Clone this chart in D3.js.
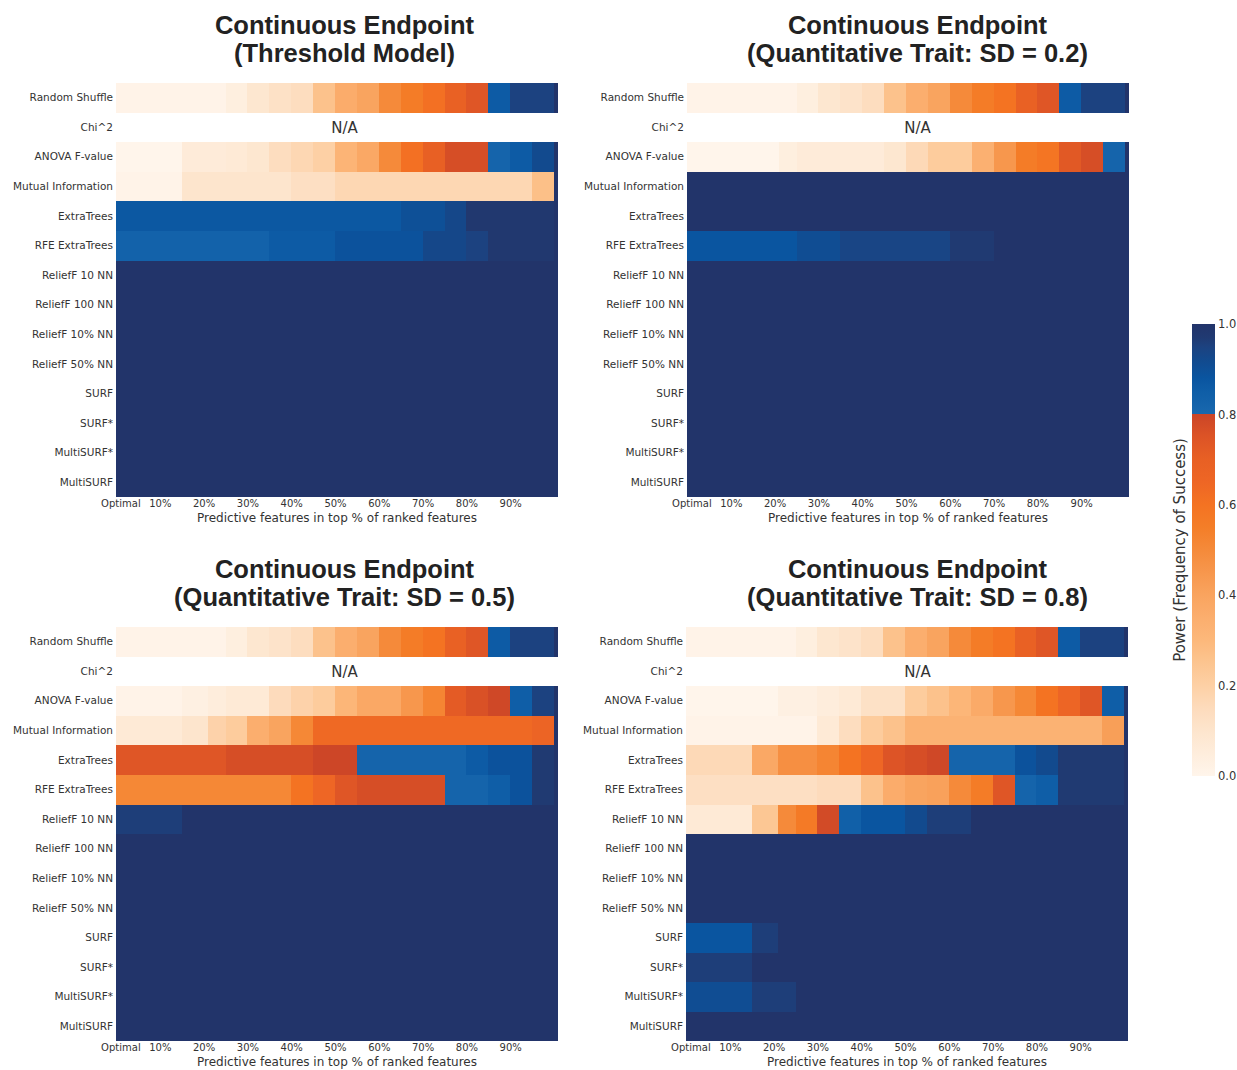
<!DOCTYPE html>
<html>
<head>
<meta charset="utf-8">
<script src="https://cdn.jsdelivr.net/npm/d3@7"></script>
<style>
  html, body { margin: 0; padding: 0; background: #fff; }
  svg { display: block; }
</style>
</head>
<body>
<svg id="chart" width="1237" height="1070"></svg>
<script>
// ---------------- DATA ----------------
const methods = ["Random Shuffle", "Chi^2", "ANOVA F-value", "Mutual Information", "ExtraTrees",
  "RFE ExtraTrees", "ReliefF 10 NN", "ReliefF 100 NN", "ReliefF 10% NN", "ReliefF 50% NN",
  "SURF", "SURF*", "MultiSURF*", "MultiSURF"];

// bin edges (% of ranked features); last thin bin is the trailing column
const binEdges = [0, 15, 21, 25, 30, 35, 40, 45, 50, 55, 60, 65, 70, 75, 80, 85, 90, 95, 100, 101];

const tickValues = [1, 10, 20, 30, 40, 50, 60, 70, 80, 90];
const tickLabels = ["Optimal", "10%", "20%", "30%", "40%", "50%", "60%", "70%", "80%", "90%"];

const panelTitles = [
  ["Continuous Endpoint", "(Threshold Model)"],
  ["Continuous Endpoint", "(Quantitative Trait: SD = 0.2)"],
  ["Continuous Endpoint", "(Quantitative Trait: SD = 0.5)"],
  ["Continuous Endpoint", "(Quantitative Trait: SD = 0.8)"]
];

const colorbarTicks = [0.0, 0.2, 0.4, 0.6, 0.8, 1.0];

// Power values, one row per method (null = N/A)
const powerThreshold = [
  [0.01,0.01,0.01,0.04,0.09,0.12,0.14,0.26,0.36,0.40,0.50,0.56,0.61,0.69,0.74,0.86,0.95,0.95,1],
  null,
  [0.00,0.06,0.06,0.07,0.09,0.14,0.17,0.20,0.32,0.38,0.50,0.61,0.70,0.77,0.77,0.82,0.86,0.92,1],
  [0.01,0.10,0.10,0.10,0.10,0.10,0.13,0.13,0.17,0.17,0.17,0.17,0.17,0.17,0.17,0.17,0.17,0.27,1],
  [0.87,0.87,0.87,0.87,0.87,0.87,0.87,0.87,0.87,0.87,0.87,0.90,0.90,0.93,0.98,0.98,0.98,0.98,1],
  [0.83,0.83,0.83,0.83,0.83,0.86,0.86,0.86,0.89,0.89,0.89,0.89,0.93,0.93,0.95,0.98,0.98,0.98,1],
  [1,1,1,1,1,1,1,1,1,1,1,1,1,1,1,1,1,1,1],
  [1,1,1,1,1,1,1,1,1,1,1,1,1,1,1,1,1,1,1],
  [1,1,1,1,1,1,1,1,1,1,1,1,1,1,1,1,1,1,1],
  [1,1,1,1,1,1,1,1,1,1,1,1,1,1,1,1,1,1,1],
  [1,1,1,1,1,1,1,1,1,1,1,1,1,1,1,1,1,1,1],
  [1,1,1,1,1,1,1,1,1,1,1,1,1,1,1,1,1,1,1],
  [1,1,1,1,1,1,1,1,1,1,1,1,1,1,1,1,1,1,1],
  [1,1,1,1,1,1,1,1,1,1,1,1,1,1,1,1,1,1,1]
];

const powerSD02 = [
  [0.01,0.01,0.01,0.04,0.09,0.11,0.14,0.26,0.35,0.40,0.50,0.56,0.60,0.69,0.74,0.86,0.95,0.95,1],
  null,
  [0.00,0.00,0.04,0.06,0.06,0.06,0.06,0.09,0.16,0.22,0.22,0.34,0.45,0.56,0.59,0.73,0.77,0.82,1],
  [1,1,1,1,1,1,1,1,1,1,1,1,1,1,1,1,1,1,1],
  [1,1,1,1,1,1,1,1,1,1,1,1,1,1,1,1,1,1,1],
  [0.88,0.88,0.88,0.91,0.91,0.94,0.94,0.94,0.94,0.94,0.97,0.97,1,1,1,1,1,1,1],
  [1,1,1,1,1,1,1,1,1,1,1,1,1,1,1,1,1,1,1],
  [1,1,1,1,1,1,1,1,1,1,1,1,1,1,1,1,1,1,1],
  [1,1,1,1,1,1,1,1,1,1,1,1,1,1,1,1,1,1,1],
  [1,1,1,1,1,1,1,1,1,1,1,1,1,1,1,1,1,1,1],
  [1,1,1,1,1,1,1,1,1,1,1,1,1,1,1,1,1,1,1],
  [1,1,1,1,1,1,1,1,1,1,1,1,1,1,1,1,1,1,1],
  [1,1,1,1,1,1,1,1,1,1,1,1,1,1,1,1,1,1,1],
  [1,1,1,1,1,1,1,1,1,1,1,1,1,1,1,1,1,1,1]
];

const powerSD05 = [
  [0.01,0.01,0.01,0.04,0.09,0.11,0.14,0.26,0.35,0.40,0.50,0.56,0.60,0.69,0.74,0.86,0.95,0.95,1],
  null,
  [0.01,0.03,0.05,0.07,0.07,0.15,0.19,0.22,0.31,0.38,0.38,0.45,0.52,0.72,0.76,0.79,0.85,0.95,1],
  [0.07,0.10,0.19,0.22,0.35,0.40,0.51,0.64,0.64,0.64,0.64,0.64,0.64,0.64,0.64,0.64,0.64,0.67,1],
  [0.74,0.74,0.74,0.77,0.77,0.77,0.77,0.795,0.795,0.82,0.82,0.82,0.82,0.82,0.86,0.89,0.89,0.97,1],
  [0.51,0.51,0.51,0.51,0.51,0.51,0.60,0.65,0.74,0.77,0.77,0.77,0.77,0.82,0.82,0.85,0.89,0.97,1],
  [0.96,1,1,1,1,1,1,1,1,1,1,1,1,1,1,1,1,1,1],
  [1,1,1,1,1,1,1,1,1,1,1,1,1,1,1,1,1,1,1],
  [1,1,1,1,1,1,1,1,1,1,1,1,1,1,1,1,1,1,1],
  [1,1,1,1,1,1,1,1,1,1,1,1,1,1,1,1,1,1,1],
  [1,1,1,1,1,1,1,1,1,1,1,1,1,1,1,1,1,1,1],
  [1,1,1,1,1,1,1,1,1,1,1,1,1,1,1,1,1,1,1],
  [1,1,1,1,1,1,1,1,1,1,1,1,1,1,1,1,1,1,1],
  [1,1,1,1,1,1,1,1,1,1,1,1,1,1,1,1,1,1,1]
];

const powerSD08 = [
  [0.01,0.01,0.01,0.04,0.09,0.11,0.14,0.26,0.35,0.40,0.50,0.56,0.60,0.69,0.74,0.86,0.95,0.95,1],
  null,
  [0.00,0.00,0.03,0.03,0.05,0.07,0.12,0.12,0.22,0.26,0.31,0.37,0.45,0.51,0.60,0.66,0.74,0.85,1],
  [0.01,0.01,0.01,0.01,0.07,0.14,0.22,0.26,0.33,0.33,0.33,0.33,0.33,0.33,0.33,0.33,0.33,0.42,1],
  [0.16,0.38,0.48,0.48,0.52,0.60,0.65,0.75,0.77,0.79,0.82,0.82,0.82,0.89,0.92,0.97,0.97,0.97,1],
  [0.13,0.13,0.13,0.13,0.15,0.15,0.26,0.36,0.40,0.41,0.50,0.56,0.74,0.82,0.85,0.97,0.97,0.97,1],
  [0.07,0.24,0.50,0.57,0.78,0.84,0.88,0.88,0.92,0.96,0.96,1,1,1,1,1,1,1,1],
  [1,1,1,1,1,1,1,1,1,1,1,1,1,1,1,1,1,1,1],
  [1,1,1,1,1,1,1,1,1,1,1,1,1,1,1,1,1,1,1],
  [1,1,1,1,1,1,1,1,1,1,1,1,1,1,1,1,1,1,1],
  [0.88,0.96,1,1,1,1,1,1,1,1,1,1,1,1,1,1,1,1,1],
  [0.96,1,1,1,1,1,1,1,1,1,1,1,1,1,1,1,1,1,1],
  [0.91,0.96,0.96,1,1,1,1,1,1,1,1,1,1,1,1,1,1,1,1],
  [1,1,1,1,1,1,1,1,1,1,1,1,1,1,1,1,1,1,1]
];

const panelData = [powerThreshold, powerSD02, powerSD05, powerSD08];

// ---------------- STYLE / LAYOUT ----------------
const colorStops = [
  [0.00, "#fff5eb"], [0.05, "#feeddc"], [0.10, "#fde5cd"], [0.15, "#fddbbc"],
  [0.20, "#fdd0a5"], [0.25, "#fcc590"], [0.30, "#fcb87b"], [0.35, "#fbae6e"],
  [0.40, "#f9a45f"], [0.45, "#f7974d"], [0.50, "#f58a3a"], [0.55, "#f47e28"],
  [0.60, "#f47322"], [0.65, "#ee6625"], [0.70, "#e86024"], [0.75, "#dd5426"],
  [0.7999, "#cb4527"], [0.80, "#1968ae"], [0.85, "#0f5ea7"], [0.88, "#0a55a0"],
  [0.92, "#124a8e"], [0.95, "#1c4280"], [0.97, "#203a72"], [1.00, "#22346a"]
];
const color = d3.scaleLinear()
  .domain(colorStops.map(d => d[0]))
  .range(colorStops.map(d => d[1]))
  .interpolate(d3.interpolateRgb)
  .clamp(true);

const layout = [
  { x0: 116, x1: 554, y0: 83, tc: 344.5 },
  { x0: 687, x1: 1125, y0: 83, tc: 917.5 },
  { x0: 116, x1: 554, y0: 627, tc: 344.5 },
  { x0: 686, x1: 1124, y0: 627, tc: 917.5 }
];
const rowH = 29.6;
const labelFont = "'DejaVu Sans', sans-serif";
const titleFont = "'Liberation Sans', Arial, Helvetica, sans-serif";

const svg = d3.select("#chart");

panelData.forEach((data, p) => {
  const L = layout[p];
  const x = d3.scaleLinear().domain([0, 100]).range([L.x0, L.x1]);
  const xr = d3.scaleLinear().domain([0, 100]).range([L.x0, L.x1]).interpolate(d3.interpolateRound);
  const y = d3.scaleBand().domain(methods).range([L.y0, L.y0 + rowH * methods.length]).padding(0);
  const g = svg.append("g");

  // cells
  methods.forEach((m, i) => {
    const row = data[i];
    if (!row) {
      g.append("text")
        .attr("x", L.tc)
        .attr("y", y(m) + y.bandwidth() / 2)
        .attr("dy", "0.36em")
        .attr("text-anchor", "middle")
        .attr("font-family", labelFont)
        .attr("font-size", 15)
        .attr("fill", "#333")
        .text("N/A");
      return;
    }
    const yTop = Math.round(y(m));
    const yBot = Math.round(y(m) + y.bandwidth());
    g.selectAll(null)
      .data(row.map((v, j) => ({ v, j })))
      .enter().append("rect")
      .attr("x", d => xr(binEdges[d.j]))
      .attr("y", yTop)
      .attr("width", d => xr(binEdges[d.j + 1]) - xr(binEdges[d.j]))
      .attr("height", yBot - yTop)
      .attr("shape-rendering", "crispEdges")
      .attr("fill", d => color(d.v));
  });

  // y axis
  const ya = g.append("g")
    .attr("transform", `translate(${L.x0},0)`)
    .call(d3.axisLeft(y).tickSize(0).tickPadding(3));
  ya.select(".domain").remove();
  ya.selectAll("text").attr("font-family", labelFont).attr("font-size", 10.5).attr("fill", "#333");

  // x axis
  const yb = L.y0 + rowH * methods.length;
  const xa = g.append("g")
    .attr("transform", `translate(0,${yb})`)
    .call(d3.axisBottom(x).tickValues(tickValues).tickFormat((d, k) => tickLabels[k]).tickSize(0).tickPadding(2.5));
  xa.select(".domain").remove();
  xa.selectAll("text").attr("font-family", labelFont).attr("font-size", 10).attr("fill", "#333");

  g.append("text")
    .attr("x", (L.x0 + L.x1 + 4) / 2)
    .attr("y", yb + 25)
    .attr("text-anchor", "middle")
    .attr("font-family", labelFont)
    .attr("font-size", 12)
    .attr("fill", "#333")
    .text("Predictive features in top % of ranked features");

  // title
  panelTitles[p].forEach((t, k) => {
    g.append("text")
      .attr("x", L.tc)
      .attr("y", L.y0 - 48.7 + k * 27.4)
      .attr("text-anchor", "middle")
      .attr("font-family", titleFont)
      .attr("font-weight", "bold")
      .attr("font-size", 25.5)
      .attr("fill", "#222")
      .text(t);
  });
});

// ---------------- COLORBAR ----------------
const cb = { x: 1192, w: 23, top: 324, bottom: 776 };
const cbScale = d3.scaleLinear().domain([0, 1]).range([cb.bottom, cb.top]);
const defs = svg.append("defs");
const grad = defs.append("linearGradient")
  .attr("id", "cbgrad")
  .attr("x1", 0).attr("y1", 1).attr("x2", 0).attr("y2", 0);
colorStops.forEach(s => {
  grad.append("stop").attr("offset", s[0]).attr("stop-color", s[1]);
});
svg.append("rect")
  .attr("x", cb.x).attr("y", cb.top)
  .attr("width", cb.w).attr("height", cb.bottom - cb.top)
  .attr("fill", "url(#cbgrad)");
const cba = svg.append("g")
  .attr("transform", `translate(${cb.x + cb.w},0)`)
  .call(d3.axisRight(cbScale).tickValues(colorbarTicks).tickFormat(d3.format(".1f")).tickSize(0).tickPadding(3));
cba.select(".domain").remove();
cba.selectAll("text").attr("font-family", labelFont).attr("font-size", 11.5).attr("fill", "#333");

svg.append("text")
  .attr("transform", `translate(1180,${(cb.top + cb.bottom) / 2}) rotate(-90)`)
  .attr("dy", "0.36em")
  .attr("text-anchor", "middle")
  .attr("font-family", labelFont)
  .attr("font-size", 15)
  .attr("fill", "#333")
  .text("Power (Frequency of Success)");
</script>
</body>
</html>
